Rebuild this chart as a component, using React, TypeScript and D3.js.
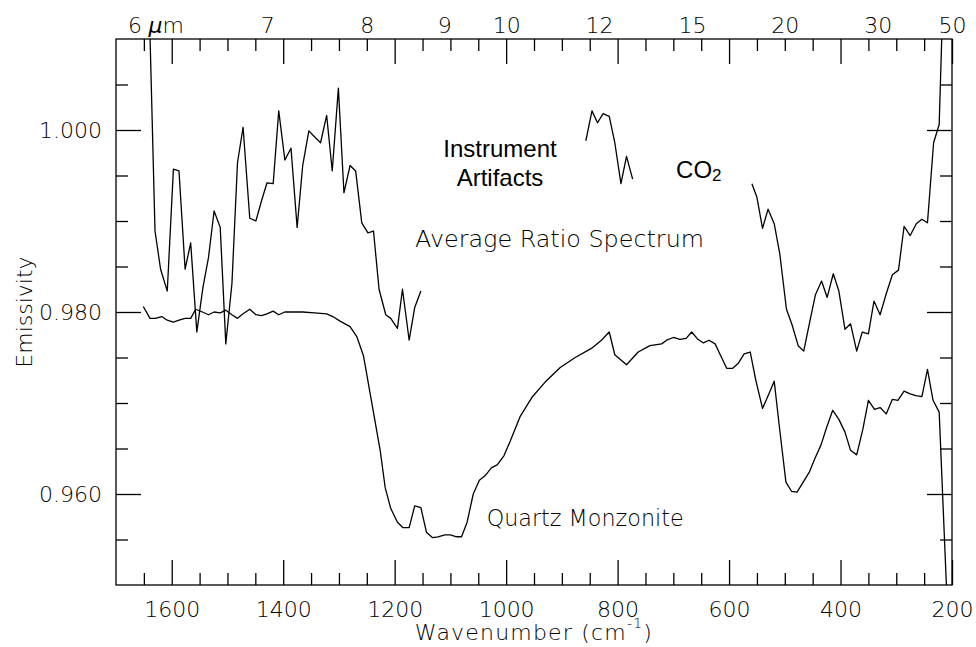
import { useEffect, useRef } from 'react';
import * as d3 from 'd3';

// Average ratio spectrum, three separate pieces (wavenumber cm^-1, emissivity)
const ratioWn1 = [1643, 1630, 1620, 1608, 1597, 1587, 1576, 1566, 1555, 1544, 1534, 1524, 1513, 1503, 1492, 1482, 1472, 1460, 1449, 1439, 1429, 1418, 1408, 1397, 1386, 1375, 1365, 1354, 1343, 1333, 1322, 1312, 1301, 1291, 1280, 1270, 1259, 1248, 1238, 1228, 1216, 1207, 1195, 1186, 1174, 1164, 1153];
const ratioVal1 = [1.020, 0.9889, 0.9847, 0.9823, 0.9957, 0.9955, 0.9847, 0.9876, 0.9778, 0.9827, 0.9860, 0.9911, 0.9893, 0.9765, 0.9831, 0.9964, 1.0003, 0.9903, 0.9900, 0.9922, 0.9942, 0.9941, 1.0021, 0.9967, 0.9980, 0.9893, 0.9961, 0.9999, 0.9992, 0.9986, 1.0016, 0.9955, 1.0046, 0.9931, 0.9961, 0.9955, 0.9898, 0.9887, 0.9889, 0.9825, 0.9797, 0.9793, 0.9782, 0.9825, 0.9769, 0.9805, 0.9823];

const ratioWn2 = [857, 846, 836, 826, 815, 805, 794, 784, 773];
const ratioVal2 = [0.9988, 1.0021, 1.0008, 1.0018, 1.0015, 0.9986, 0.9941, 0.9971, 0.9946];

const ratioWn3 = [559, 550, 540, 530, 519, 509, 497, 487, 476, 466, 455, 445, 434, 424, 413, 403, 392, 382, 371, 361, 350, 340, 329, 318, 307, 296, 286, 275, 264, 254, 244, 233, 223, 216];
const ratioVal3 = [0.9941, 0.9926, 0.9892, 0.9913, 0.9897, 0.9864, 0.9803, 0.9786, 0.9763, 0.9757, 0.9790, 0.9819, 0.9834, 0.9816, 0.9842, 0.9823, 0.9781, 0.9787, 0.9757, 0.9778, 0.9776, 0.9812, 0.9797, 0.9820, 0.9841, 0.9846, 0.9894, 0.9884, 0.9897, 0.9902, 0.9898, 0.9986, 1.0006, 1.015];

// Quartz monzonite laboratory spectrum
const quartzWn = [1651, 1639, 1629, 1618, 1608, 1597, 1587, 1576, 1566, 1557, 1545, 1534, 1524, 1513, 1503, 1492, 1482, 1472, 1460, 1449, 1439, 1429, 1418, 1408, 1397, 1385, 1365, 1344, 1322, 1311, 1298, 1280, 1268, 1256, 1226, 1217, 1207, 1195, 1185, 1174, 1164, 1153, 1143, 1132, 1122, 1110, 1100, 1089, 1080, 1070, 1059, 1048, 1038, 1026, 1016, 1004, 992, 975, 954, 930, 903, 876, 847, 829, 815, 805, 784, 763, 742, 721, 712, 700, 688, 677, 667, 656, 646, 636, 625, 615, 604, 594, 583, 573, 562, 552, 540, 530, 519, 509, 498, 488, 478, 467, 456, 446, 435, 425, 414, 403, 392, 382, 371, 360, 350, 339, 329, 318, 307, 297, 286, 275, 265, 254, 244, 234, 223, 206];
const quartzVal = [0.9806, 0.9793, 0.9793, 0.9795, 0.9791, 0.9789, 0.9791, 0.9793, 0.9793, 0.9803, 0.9800, 0.9797, 0.9800, 0.9799, 0.9802, 0.9797, 0.9793, 0.9798, 0.9803, 0.9797, 0.9796, 0.9798, 0.9801, 0.9797, 0.9800, 0.9800, 0.9800, 0.9799, 0.9798, 0.9795, 0.9790, 0.9784, 0.9773, 0.9752, 0.9648, 0.9607, 0.9584, 0.9569, 0.9563, 0.9563, 0.9587, 0.9585, 0.9558, 0.9552, 0.9553, 0.9555, 0.9555, 0.9553, 0.9553, 0.9569, 0.9600, 0.9615, 0.9620, 0.9629, 0.9632, 0.9642, 0.9659, 0.9685, 0.9706, 0.9723, 0.9739, 0.9750, 0.9760, 0.9769, 0.9778, 0.9753, 0.9742, 0.9756, 0.9763, 0.9765, 0.9769, 0.9772, 0.9770, 0.9771, 0.9778, 0.9770, 0.9766, 0.9769, 0.9765, 0.9752, 0.9738, 0.9738, 0.9744, 0.9754, 0.9756, 0.9725, 0.9694, 0.9708, 0.9724, 0.9670, 0.9613, 0.9603, 0.9602, 0.9613, 0.9624, 0.9639, 0.9654, 0.9673, 0.9692, 0.9682, 0.9668, 0.9648, 0.9643, 0.9671, 0.9703, 0.9693, 0.9695, 0.9688, 0.9704, 0.9703, 0.9713, 0.9710, 0.9708, 0.9707, 0.9737, 0.9703, 0.9690, 0.944];

// Axis ticks
const xMajorTicks = [1600, 1400, 1200, 1000, 800, 600, 400, 200];
const xMinorTicks = d3.range(1650, 199, -50).filter(v => v % 200 !== 0);
const yMajorTicks = [0.960, 0.980, 1.000];
const yMinorTicks = d3.range(191, 202).filter(i => i % 4 !== 0).map(i => i / 200);
const micronLabels = [6, 7, 8, 9, 10, 12, 15, 20, 30, 50];

export default function App() {
  const svgRef = useRef<SVGSVGElement>(null);

  useEffect(() => {
    if (!svgRef.current) return;
    const svg = d3.select(svgRef.current);
    svg.selectAll('*').remove();

    const W = 976, H = 647;
    const margin = { top: 39, right: 24, bottom: 62, left: 116 };
    const x0 = margin.left, x1 = W - margin.right;
    const y0 = H - margin.bottom, y1 = margin.top;
    const hershey = "'DejaVu Sans', sans-serif";
    const thin = 200;
    const helv = "'Liberation Sans', Arial, sans-serif";
    const lw = 1.3;

    const x = d3.scaleLinear().domain([1700, 200]).range([x0, x1]);
    const y = d3.scaleLinear().domain([0.950, 1.010]).range([y0, y1]);

    svg.append('rect').attr('width', W).attr('height', H).attr('fill', '#fff');

    svg.append('clipPath').attr('id', 'plot-clip')
      .append('rect').attr('x', x0).attr('y', y1).attr('width', x1 - x0).attr('height', y0 - y1);

    // axes helper: draws ticks, drops domain line (font set after the call, d3 overrides it)
    const addAxis = (axis: any, tx: number, ty: number) => {
      const g = svg.append('g')
        .attr('transform', `translate(${tx},${ty})`)
        .call(axis)
        .attr('color', '#000')
        .attr('font-family', hershey)
        .attr('font-weight', thin)
        .attr('font-size', 22);
      g.select('.domain').remove();
      g.selectAll('line').attr('stroke-width', lw);
      return g;
    };

    // bottom
    addAxis(d3.axisBottom(x).tickValues(xMinorTicks).tickSize(-12).tickFormat(() => ''), 0, y0);
    const bottom = addAxis(d3.axisBottom(x).tickValues(xMajorTicks).tickSize(-25).tickFormat(d3.format('d')), 0, y0);
    bottom.selectAll('text').attr('y', 32).attr('dy', 0);

    // top (same ticks, micron labels)
    addAxis(d3.axisTop(x).tickValues(xMinorTicks).tickSize(-12).tickFormat(() => ''), 0, y1);
    addAxis(d3.axisTop(x).tickValues(xMajorTicks).tickSize(-25).tickFormat(() => ''), 0, y1);
    const top = addAxis(
      d3.axisTop(x).tickValues(micronLabels.map(m => 10000 / m)).tickSize(0)
        .tickFormat((d: any) => String(Math.round(10000 / d))),
      0, y1);
    top.selectAll('text').attr('y', -6).attr('dy', 0);
    const um = svg.append('text')
      .attr('x', x(10000 / 6) + 14).attr('y', y1 - 6)
      .attr('font-family', hershey).attr('font-weight', thin).attr('font-size', 22);
    um.append('tspan').attr('font-style', 'italic').text('\u03bc');
    um.append('tspan').text('m');

    // left
    addAxis(d3.axisLeft(y).tickValues(yMinorTicks).tickSize(-12).tickFormat(() => ''), x0, 0);
    const left = addAxis(d3.axisLeft(y).tickValues(yMajorTicks).tickSize(-25).tickFormat(d3.format('.3f')), x0, 0);
    left.selectAll('text').attr('x', -14).attr('dy', '0.33em');

    // right
    addAxis(d3.axisRight(y).tickValues(yMinorTicks).tickSize(-12).tickFormat(() => ''), x1, 0);
    addAxis(d3.axisRight(y).tickValues(yMajorTicks).tickSize(-25).tickFormat(() => ''), x1, 0);

    // frame
    svg.append('rect')
      .attr('x', x0).attr('y', y1).attr('width', x1 - x0).attr('height', y0 - y1)
      .attr('fill', 'none').attr('stroke', '#000').attr('stroke-width', lw);

    // spectra
    const line = d3.line<[number, number]>().x(d => x(d[0])).y(d => y(d[1]));
    const series: [number[], number[]][] = [
      [ratioWn1, ratioVal1],
      [ratioWn2, ratioVal2],
      [ratioWn3, ratioVal3],
      [quartzWn, quartzVal],
    ];
    const plot = svg.append('g').attr('clip-path', 'url(#plot-clip)');
    series.forEach(([wn, val]) => {
      plot.append('path')
        .datum(wn.map((w, i) => [w, val[i]] as [number, number]))
        .attr('fill', 'none')
        .attr('stroke', '#000')
        .attr('stroke-width', lw)
        .attr('stroke-linejoin', 'round')
        .attr('d', line);
    });

    // labels inside the plot
    svg.append('text')
      .attr('x', x(1163.5)).attr('y', y(0.98718))
      .attr('font-family', hershey).attr('font-weight', thin).attr('font-size', 23)
      .attr('textLength', 289).attr('lengthAdjust', 'spacingAndGlyphs')
      .text('Average Ratio Spectrum');
    svg.append('text')
      .attr('x', x(1035)).attr('y', y(0.95646))
      .attr('font-family', hershey).attr('font-weight', thin).attr('font-size', 23)
      .attr('textLength', 197).attr('lengthAdjust', 'spacingAndGlyphs')
      .text('Quartz Monzonite');
    svg.append('text')
      .attr('x', x(1011)).attr('y', y(0.99699))
      .attr('text-anchor', 'middle')
      .attr('font-family', helv).attr('font-size', 24)
      .text('Instrument');
    svg.append('text')
      .attr('x', x(1011)).attr('y', y(0.99388))
      .attr('text-anchor', 'middle')
      .attr('font-family', helv).attr('font-size', 24)
      .text('Artifacts');
    const co2 = svg.append('text')
      .attr('x', x(695)).attr('y', y(0.99476))
      .attr('font-family', helv).attr('font-size', 24);
    co2.append('tspan').text('CO');
    co2.append('tspan').attr('font-size', 17).attr('dy', 3).text('2');

    // axis titles
    svg.append('text')
      .attr('transform', `translate(32,${(y0 + y1) / 2}) rotate(-90)`)
      .attr('text-anchor', 'middle')
      .attr('font-family', hershey).attr('font-weight', thin).attr('font-size', 22)
      .text('Emissivity');
    const xt = svg.append('text')
      .attr('x', (x0 + x1) / 2).attr('y', 640)
      .attr('text-anchor', 'middle')
      .attr('font-family', hershey).attr('font-weight', thin).attr('font-size', 22)
      .attr('letter-spacing', 1.2);
    xt.append('tspan').text('Wavenumber (cm');
    xt.append('tspan').attr('font-size', 14).attr('dy', -12).text('-1');
    xt.append('tspan').attr('dy', 12).text(')');
  }, []);

  return (
    <svg
      ref={svgRef}
      width={976}
      height={647}
      style={{ position: 'absolute', left: 0, top: 0, display: 'block' }}
    />
  );
}
